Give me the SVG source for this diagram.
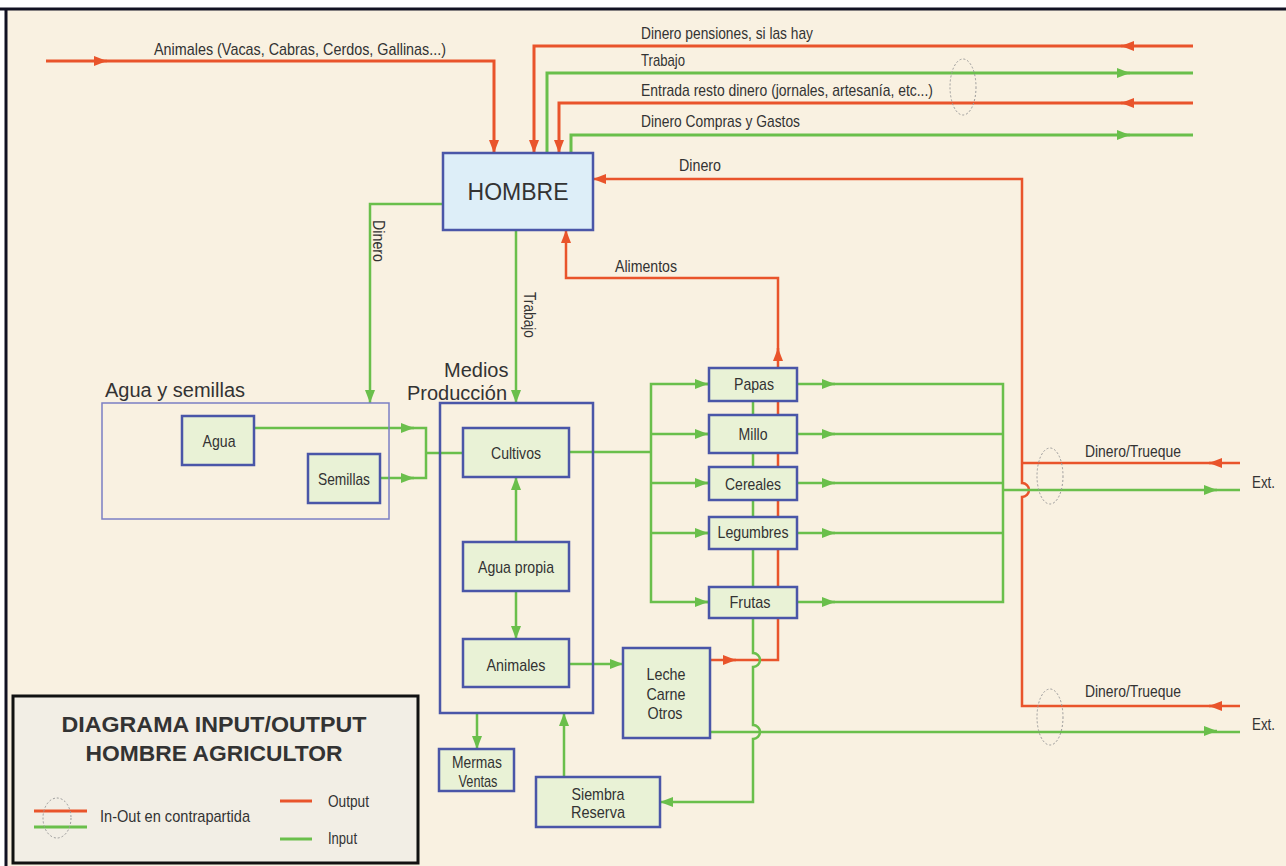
<svg xmlns="http://www.w3.org/2000/svg" width="1286" height="866" viewBox="0 0 1286 866">
<style>
text{font-family:"Liberation Sans",Arial,sans-serif;fill:#333}
.lb{font-size:17px}
.lc{font-size:17px;text-anchor:middle}
.r{fill:none;stroke:#e9542b;stroke-width:2.5}
.g{fill:none;stroke:#6abf4b;stroke-width:2.5}
.t{stroke-width:3}
.box{fill:#e9f2d6;stroke:#4a56a8;stroke-width:2.5}
.ell{fill:none;stroke:#9a9a9a;stroke-width:1;stroke-dasharray:2 2}
</style>
<defs>
<marker id="mr" markerUnits="userSpaceOnUse" markerWidth="14" markerHeight="11" refX="13" refY="5.5" orient="auto"><path d="M0,0.5 L13,5.5 L0,10.5 z" fill="#e9542b"/></marker>
<marker id="mg" markerUnits="userSpaceOnUse" markerWidth="14" markerHeight="11" refX="13" refY="5.5" orient="auto"><path d="M0,0.5 L13,5.5 L0,10.5 z" fill="#6abf4b"/></marker>
</defs>
<rect x="0" y="0" width="1286" height="866" fill="#ffffff"/>
<rect x="6" y="9" width="1280" height="857" fill="#f9f1e1"/>
<path d="M0 9 H1286 M6 9 V866" stroke="#111122" stroke-width="3" fill="none"/>

<g id="connectors">
<!-- red -->
<path class="r t" d="M46 61 H494 V153" marker-end="url(#mr)"/>
<path class="r" d="M95 61 H107" marker-end="url(#mr)"/>
<path class="r t" d="M1193 46 H534 V153" marker-end="url(#mr)"/>
<path class="r" d="M1133 46 H1121" marker-end="url(#mr)"/>
<path class="r t" d="M1193 103 H559 V153" marker-end="url(#mr)"/>
<path class="r" d="M1133 103 H1121" marker-end="url(#mr)"/>
<path class="r" d="M1240 706 H1022 V497 A7 7 0 0 0 1022 483 V179 H593" marker-end="url(#mr)"/>
<path class="r" d="M1240 463 H1022"/>
<path class="r" d="M1221 463 H1209" marker-end="url(#mr)"/>
<path class="r" d="M1221 706 H1209" marker-end="url(#mr)"/>
<path class="r" d="M710 660 H778 V278 H566 V230" marker-end="url(#mr)"/>
<path class="r" d="M778 360 V348" marker-end="url(#mr)"/>
<path class="r" d="M724 660 H736" marker-end="url(#mr)"/>
<!-- green -->
<path class="g t" d="M547 153 V73 H1193"/>
<path class="g" d="M1118 73 H1130" marker-end="url(#mg)"/>
<path class="g t" d="M571 153 V135 H1193"/>
<path class="g" d="M1118 135 H1130" marker-end="url(#mg)"/>
<path class="g" d="M443 204 H370 V403" marker-end="url(#mg)"/>
<path class="g" d="M516 230 V403" marker-end="url(#mg)"/>
<path class="g" d="M254 428 H426 V478 H380 M426 453 H463"/>
<path class="g" d="M402 428 H414" marker-end="url(#mg)"/>
<path class="g" d="M402 478 H414" marker-end="url(#mg)"/>
<path class="g" d="M516 542 V477" marker-end="url(#mg)"/>
<path class="g" d="M516 591 V639" marker-end="url(#mg)"/>
<path class="g" d="M569 452 H651 M709 384 H651 V602 H709 M651 434 H709 M651 483 H709 M651 533 H709"/>
<path class="g" d="M696 384 H708" marker-end="url(#mg)"/>
<path class="g" d="M696 434 H708" marker-end="url(#mg)"/>
<path class="g" d="M696 483 H708" marker-end="url(#mg)"/>
<path class="g" d="M696 533 H708" marker-end="url(#mg)"/>
<path class="g" d="M696 602 H708" marker-end="url(#mg)"/>
<path class="g" d="M797 384 H1003 V602 H797 M797 434 H1003 M797 483 H1003 M797 533 H1003 M1003 490 H1240"/>
<path class="g" d="M823 384 H835" marker-end="url(#mg)"/>
<path class="g" d="M823 434 H835" marker-end="url(#mg)"/>
<path class="g" d="M823 483 H835" marker-end="url(#mg)"/>
<path class="g" d="M823 533 H835" marker-end="url(#mg)"/>
<path class="g" d="M823 602 H835" marker-end="url(#mg)"/>
<path class="g" d="M1205 490 H1217" marker-end="url(#mg)"/>
<path class="g" d="M569 664 H623" marker-end="url(#mg)"/>
<path class="g" d="M710 732 H1240"/>
<path class="g" d="M1205 731 H1217" marker-end="url(#mg)"/>
<path class="g" d="M753 401 V653 A7 7 0 0 1 753 667 V725 A7 7 0 0 1 753 739 V802 H660" marker-end="url(#mg)"/>
<path class="g" d="M477 713 V749" marker-end="url(#mg)"/>
<path class="g" d="M564 777 V713" marker-end="url(#mg)"/>
<!-- dashed ellipses -->
<ellipse class="ell" cx="963" cy="87" rx="13" ry="28"/>
<ellipse class="ell" cx="1050" cy="476" rx="13" ry="28"/>
<ellipse class="ell" cx="1050" cy="717" rx="13" ry="28"/>
<!-- connector labels -->
<text class="lb" x="154" y="55" textLength="292" lengthAdjust="spacingAndGlyphs">Animales (Vacas, Cabras, Cerdos, Gallinas...)</text>
<text class="lb" x="641" y="39" textLength="172" lengthAdjust="spacingAndGlyphs">Dinero pensiones, si las hay</text>
<text class="lb" x="641" y="66" textLength="44" lengthAdjust="spacingAndGlyphs">Trabajo</text>
<text class="lb" x="641" y="96" textLength="292" lengthAdjust="spacingAndGlyphs">Entrada resto dinero (jornales, artesanía, etc...)</text>
<text class="lb" x="641" y="127" textLength="159" lengthAdjust="spacingAndGlyphs">Dinero Compras y Gastos</text>
<text class="lb" x="679" y="171" textLength="42" lengthAdjust="spacingAndGlyphs">Dinero</text>
<text class="lb" x="615" y="272" textLength="62" lengthAdjust="spacingAndGlyphs">Alimentos</text>
<text class="lb" transform="translate(373 220) rotate(90)" textLength="42" lengthAdjust="spacingAndGlyphs">Dinero</text>
<text class="lb" transform="translate(524 292) rotate(90)" textLength="46" lengthAdjust="spacingAndGlyphs">Trabajo</text>
<text class="lb" x="1085" y="457" textLength="96" lengthAdjust="spacingAndGlyphs">Dinero/Trueque</text>
<text class="lb" x="1085" y="697" textLength="96" lengthAdjust="spacingAndGlyphs">Dinero/Trueque</text>
<text class="lb" x="1252" y="488" textLength="23" lengthAdjust="spacingAndGlyphs">Ext.</text>
<text class="lb" x="1252" y="730" textLength="23" lengthAdjust="spacingAndGlyphs">Ext.</text>
</g>

<g id="hombre">
<rect x="443" y="153" width="150" height="77" fill="#ddeef8" stroke="#4a56a8" stroke-width="2.5"/>
<text x="518" y="200" font-size="23" text-anchor="middle">HOMBRE</text>
</g>

<g id="agua-semillas">
<rect x="102" y="403" width="287" height="116" fill="none" stroke="#7b7fc4" stroke-width="1.5"/>
<text x="105" y="397" font-size="20">Agua y semillas</text>
</g>
<g id="agua">
<rect class="box" x="182" y="416" width="72" height="49"/>
<text class="lc" x="219" y="447" textLength="33" lengthAdjust="spacingAndGlyphs">Agua</text>
</g>
<g id="semillas">
<rect class="box" x="308" y="454" width="72" height="49"/>
<text class="lc" x="344" y="485" textLength="52" lengthAdjust="spacingAndGlyphs">Semillas</text>
</g>

<g id="medios-produccion">
<rect x="440" y="403" width="153" height="310" fill="none" stroke="#4a56a8" stroke-width="2.5"/>
<text x="444" y="377" font-size="20">Medios</text>
<text x="407" y="400" font-size="20">Producción</text>
</g>
<g id="cultivos">
<rect class="box" x="463" y="428" width="106" height="49"/>
<text class="lc" x="516" y="459" textLength="50" lengthAdjust="spacingAndGlyphs">Cultivos</text>
</g>
<g id="agua-propia">
<rect class="box" x="463" y="542" width="106" height="49"/>
<text class="lc" x="516" y="573" textLength="76" lengthAdjust="spacingAndGlyphs">Agua propia</text>
</g>
<g id="animales">
<rect class="box" x="463" y="639" width="106" height="48"/>
<text class="lc" x="516" y="671" textLength="59" lengthAdjust="spacingAndGlyphs">Animales</text>
</g>

<g id="papas">
<rect class="box" x="709" y="368" width="88" height="33"/>
<text class="lc" x="754" y="390" textLength="40" lengthAdjust="spacingAndGlyphs">Papas</text>
</g>
<g id="millo">
<rect class="box" x="709" y="415" width="88" height="38"/>
<text class="lc" x="753" y="440" textLength="29" lengthAdjust="spacingAndGlyphs">Millo</text>
</g>
<g id="cereales">
<rect class="box" x="709" y="467" width="88" height="33"/>
<text class="lc" x="753" y="490" textLength="56" lengthAdjust="spacingAndGlyphs">Cereales</text>
</g>
<g id="legumbres">
<rect class="box" x="709" y="517" width="88" height="32"/>
<text class="lc" x="753" y="538" textLength="71" lengthAdjust="spacingAndGlyphs">Legumbres</text>
</g>
<g id="frutas">
<rect class="box" x="709" y="587" width="88" height="31"/>
<text class="lc" x="750" y="608" textLength="41" lengthAdjust="spacingAndGlyphs">Frutas</text>
</g>

<g id="leche-carne-otros">
<rect class="box" x="623" y="648" width="87" height="90"/>
<text class="lc" x="666" y="680" textLength="39" lengthAdjust="spacingAndGlyphs">Leche</text>
<text class="lc" x="666" y="700" textLength="39" lengthAdjust="spacingAndGlyphs">Carne</text>
<text class="lc" x="665" y="719" textLength="35" lengthAdjust="spacingAndGlyphs">Otros</text>
</g>
<g id="mermas-ventas">
<rect class="box" x="439" y="749" width="75" height="42"/>
<text class="lc" x="477" y="768" textLength="50" lengthAdjust="spacingAndGlyphs">Mermas</text>
<text class="lc" x="478" y="787" textLength="39" lengthAdjust="spacingAndGlyphs">Ventas</text>
</g>
<g id="siembra-reserva">
<rect class="box" x="536" y="777" width="124" height="50"/>
<text class="lc" x="598" y="800" textLength="53" lengthAdjust="spacingAndGlyphs">Siembra</text>
<text class="lc" x="598" y="818" textLength="54" lengthAdjust="spacingAndGlyphs">Reserva</text>
</g>

<g id="legend">
<rect x="13" y="696" width="405" height="167" fill="#f2eee5" stroke="#111" stroke-width="3"/>
<text x="214" y="732" font-size="22" font-weight="bold" text-anchor="middle" textLength="305" lengthAdjust="spacingAndGlyphs">DIAGRAMA INPUT/OUTPUT</text>
<text x="214" y="761" font-size="22" font-weight="bold" text-anchor="middle" textLength="257" lengthAdjust="spacingAndGlyphs">HOMBRE AGRICULTOR</text>
<path d="M34 811 H87" stroke="#e9542b" stroke-width="3"/>
<path d="M34 827 H87" stroke="#6abf4b" stroke-width="3"/>
<ellipse class="ell" cx="57" cy="818" rx="14" ry="20"/>
<text class="lb" x="100" y="822" textLength="150" lengthAdjust="spacingAndGlyphs">In-Out en contrapartida</text>
<path d="M280 801 H312" stroke="#e9542b" stroke-width="3"/>
<text class="lb" x="328" y="807" textLength="41" lengthAdjust="spacingAndGlyphs">Output</text>
<path d="M280 839 H312" stroke="#6abf4b" stroke-width="3"/>
<text class="lb" x="328" y="844" textLength="29" lengthAdjust="spacingAndGlyphs">Input</text>
</g>
</svg>
